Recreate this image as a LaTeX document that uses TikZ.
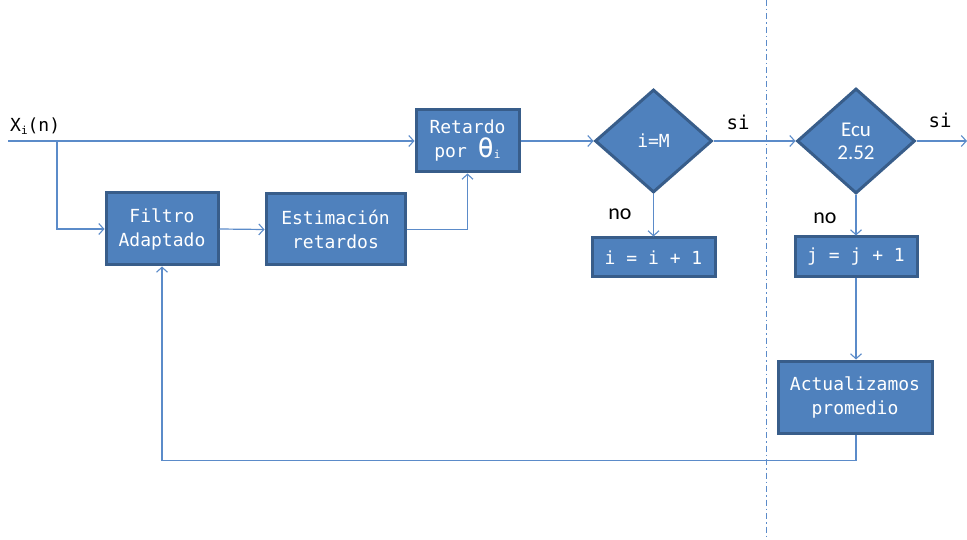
\documentclass[tikz,border=0pt]{standalone}
\usepackage{fontspec}
\setmonofont{DejaVu Sans Mono}
\newfontfamily\calib{Carlito}
\usetikzlibrary{shapes.geometric,arrows.meta}
\definecolor{boxfill}{HTML}{4F81BD}
\definecolor{boxline}{HTML}{385D8A}
\definecolor{conn}{HTML}{5B8BC9}
\tikzset{
  blk/.style={draw=boxline,line width=3pt,fill=boxfill,text=white,font=\ttfamily\fontsize{18}{24}\selectfont,align=center,inner sep=0pt},
  dia/.style={diamond,draw=boxline,line width=3pt,fill=boxfill,text=white,align=center,inner sep=0pt,minimum width=117pt,minimum height=103pt,aspect=1.14},
  conn/.style={draw=conn,line width=1.2pt,-{Straight Barb[length=5pt,width=11pt,line width=1.1pt]}},
  lbl/.style={text=black,inner sep=0pt}
}
\begin{document}
\begin{tikzpicture}[x=1pt,y=-1pt]
\useasboundingbox (0,0) rectangle (967,540);
% separator
\draw[conn,-,line width=1pt,dash pattern=on 6pt off 3pt on 1.5pt off 3pt] (766,0) -- (766,540);
% boxes
\node[blk,minimum width=112pt,minimum height=72pt] (filt) at (162,229) {Filtro\\Adaptado};
\node[blk,minimum width=139pt,minimum height=71pt] (est) at (335.5,229.5) {Estimación\\retardos};
\node[blk,minimum width=103pt,minimum height=62pt] (ret) at (467.5,141) {Retardo\\por {\fontsize{27}{24}\selectfont θ}{\fontsize{11}{11}\selectfont\raisebox{-1pt}{i}}};
\node[dia,font=\ttfamily\fontsize{18}{20}\selectfont] (im) at (653.5,141) {i=M};
\node[dia,minimum width=118pt,minimum height=105pt,font=\calib\fontsize{21}{25}\selectfont] (ecu) at (856,141) {\raisebox{-2pt}{Ecu}\\2.52};
\node[blk,minimum width=123pt,minimum height=39pt] (ii) at (653.5,257.5) {i = i + 1};
\node[blk,minimum width=122pt,minimum height=40pt] (jj) at (856,257) {j = j + 1};
\node[blk,minimum width=154pt,minimum height=72pt] (act) at (855,397) {Actualizamos\\promedio};
% labels
\node[lbl,anchor=base west,font=\ttfamily\fontsize{18}{20}\selectfont] (xin) at (10,132) {X\raisebox{-3pt}{\fontsize{11}{11}\selectfont i}(n)};
\node[lbl,anchor=base,font=\ttfamily\fontsize{19}{20}\selectfont] (si1) at (738,130) {si};
\node[lbl,anchor=base,font=\ttfamily\fontsize{19}{20}\selectfont] (si2) at (940,128) {si};
\node[lbl,anchor=base,font=\calib\fontsize{22}{20}\selectfont] (no1) at (620,220) {no};
\node[lbl,anchor=base,font=\calib\fontsize{22}{20}\selectfont] (no2) at (825,224) {no};
% coordinates
\coordinate (start) at (8,141);
\coordinate (br) at (57,141);
\coordinate (outr) at (967,141);
% connectors
\draw[conn] (start) -- (ret.west);
\draw[conn] (br) |- (filt.west);
\draw[conn] (filt.east) -- (est.west);
\draw[conn] (est.east) -| (ret.south);
\draw[conn] (ret.east) -- (im.west);
\draw[conn] (im.east) -- (ecu.west);
\draw[conn] (ecu.east) -- (outr);
\draw[conn] (im.south) -- (ii.north);
\draw[conn] (ecu.south) -- (jj.north);
\draw[conn] (jj.south) -- (jj.south |- act.north);
\draw[conn] (jj.south |- act.south) -- ++(0,26) -| (filt.south);
\end{tikzpicture}
\end{document}
